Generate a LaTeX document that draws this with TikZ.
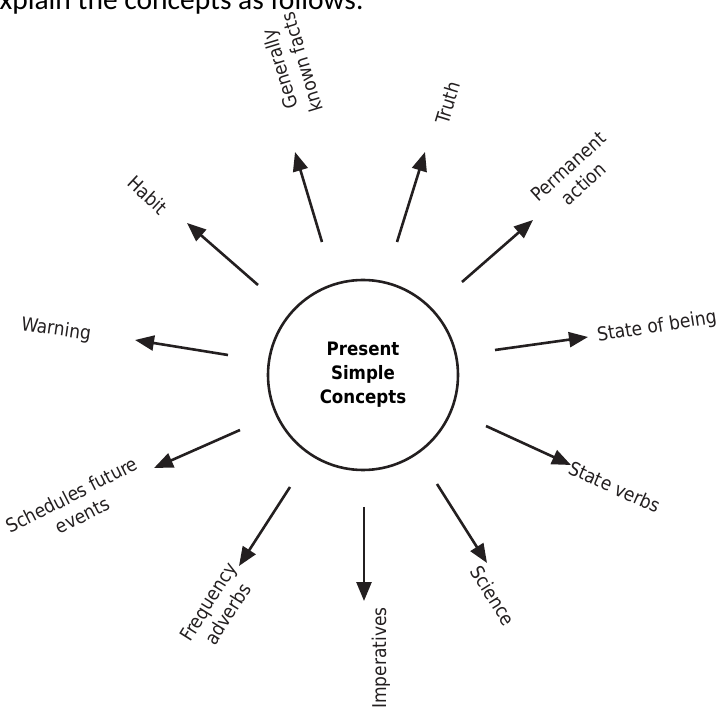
\documentclass[tikz,border=0pt]{standalone}
\usepackage{fontspec}
\setmainfont{DejaVu Sans Condensed}
\newfontfamily\headfont{Carlito}
\usetikzlibrary{arrows.meta}
\definecolor{ink}{HTML}{231F20}
\begin{document}
\begin{tikzpicture}[x=1pt,y=-1pt,
  arr/.style={draw=ink, line width=2.6pt, -{Triangle[length=19pt,width=15pt]}},
  lbl/.style={text=ink, font=\fontsize{19}{23}\selectfont, align=center, inner sep=0pt},
  hub/.style={circle, draw=ink, line width=2.6pt, minimum size=190pt, inner sep=0pt,
    font=\fontsize{18.5}{24}\selectfont\bfseries, align=center}]
\useasboundingbox (0,0) rectangle (718,708);

\node[anchor=base west, inner sep=0pt, font=\headfont\fontsize{29.5}{29.5}\selectfont] (head) at (-15,10) {Explain the concepts as follows:};

\node[hub] (hub) at (363,375) {Present\\Simple\\Concepts};

% labels
\node[lbl, rotate=107] (gkf) at (291,66) {Generally\\known facts};
\node[lbl, rotate=73] (truth) at (448,103) {Truth};
\node[lbl, rotate=42] (perm) at (576,175) {Permanent\\action};
\node[lbl, rotate=9] (sob) at (657,327) {State of being};
\node[lbl, rotate=-24] (sv) at (615,487) {State verbs};
\node[lbl, rotate=-58] (sci) at (493,596) {Science};
\node[lbl, rotate=90] (imp) at (381,658) {Imperatives};
\node[lbl, rotate=58] (freq) at (218,608) {Frequency\\adverbs};
\node[lbl, rotate=27] (sched) at (77,505) {Schedules future\\events};
\node[lbl, rotate=-8] (warn) at (56,330) {Warning};
\node[lbl, rotate=-43] (habit) at (148,195) {Habit};

% arrow ends
\coordinate (t1) at (322,242); \coordinate (h1) at (295,152);
\coordinate (t2) at (397,242); \coordinate (h2) at (425,152);
\coordinate (t3) at (462,282); \coordinate (h3) at (533,220);
\coordinate (t4) at (495,350); \coordinate (h4) at (588,337);
\coordinate (t5) at (486,426); \coordinate (h5) at (571,465);
\coordinate (t6) at (437,484); \coordinate (h6) at (487,563);
\coordinate (t7) at (364,507); \coordinate (h7) at (364,601);
\coordinate (t8) at (290,487); \coordinate (h8) at (239,566);
\coordinate (t9) at (240,430); \coordinate (h9) at (154,468);
\coordinate (t10) at (228,355); \coordinate (h10) at (135,340);
\coordinate (t11) at (258,285); \coordinate (h11) at (187,223);

\foreach \i in {1,...,11} { \draw[arr] (t\i) -- (h\i); }
\end{tikzpicture}
\end{document}
